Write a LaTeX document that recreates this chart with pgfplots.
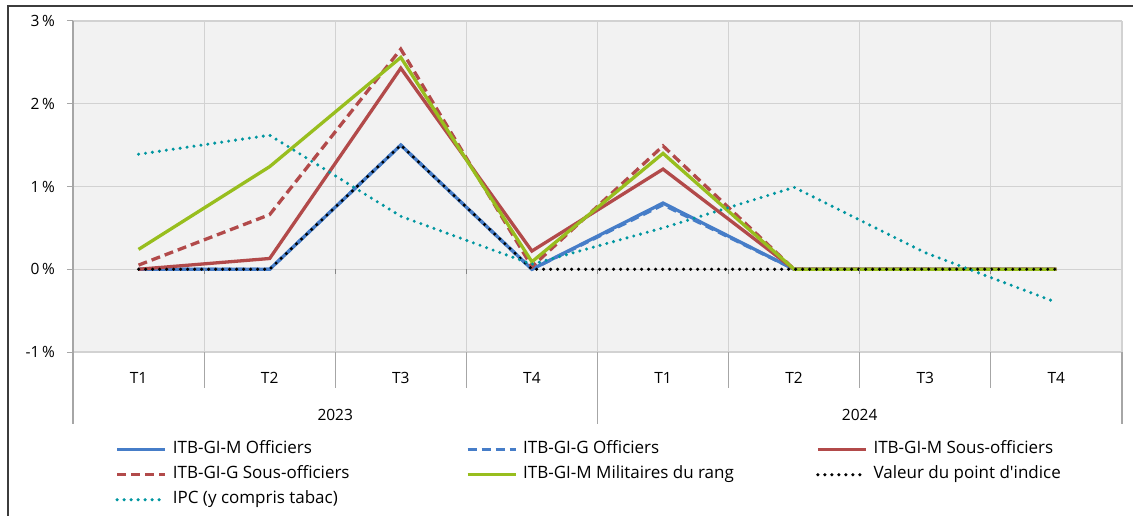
\documentclass[border=0pt]{standalone}
\usepackage{pgfplots}
\pgfplotsset{compat=1.18}
\usepackage{fontspec}
\setmainfont{Open Sans}
\definecolor{bgc}{RGB}{242,242,242}
\definecolor{gridc}{RGB}{210,210,210}
\definecolor{axc}{RGB}{166,166,166}
\definecolor{zeroc}{RGB}{134,134,134}
\definecolor{blueC}{RGB}{70,125,200}
\definecolor{redC}{RGB}{178,74,74}
\definecolor{greenC}{RGB}{152,190,30}
\definecolor{tealC}{RGB}{0,150,160}
\definecolor{frameC}{RGB}{60,60,60}
\begin{document}
\begin{tikzpicture}
\useasboundingbox (0,0) rectangle (1133bp,516bp);
\draw[frameC, line width=1.5bp] (8bp,0bp) -- (8bp,510bp) -- (1133bp,510bp);
\begin{axis}[
  at={(73bp,164bp)}, anchor=south west, scale only axis,
  width=1049bp, height=331bp,
  xmin=0, xmax=8, ymin=-1, ymax=3,
  clip=false,
  axis background/.style={fill=bgc},
  axis line style={draw=none},
  font=\fontsize{15.5bp}{18bp}\selectfont,
  xtick={0.5,1.5,...,7.5},
  xticklabels={T1,T2,T3,T4,T1,T2,T3,T4},
  xticklabel style={anchor=center, yshift=-20bp},
  minor xtick={0,1,...,8},
  x tick style={draw=none},
  xminorgrids=true,
  minor x grid style={gridc, line width=1.2bp},
  ytick={-1,0,1,2,3},
  yticklabels={-1\,\%,0\,\%,1\,\%,2\,\%,3\,\%},
  ytick pos=left,
  tick align=outside,
  major tick length=6bp,
  y tick style={axc, line width=1bp},
  yticklabel style={anchor=east, inner xsep=0bp, xshift=-12bp},
  ymajorgrids=true,
  major y grid style={gridc, line width=1.2bp},
  extra y ticks={0},
  extra y tick labels={},
  extra y tick style={major tick length=0bp, grid=major, major grid style={zeroc, line width=1.2bp}},
  legend columns=3,
  legend style={at={(0.0405,-0.2719)}, anchor=north west, draw=none, fill=none,
    inner sep=0bp, outer sep=0bp, column sep=0bp, row sep=9.5bp,
    font=\fontsize{17bp}{20bp}\selectfont,
    nodes={inner ysep=0bp, inner xsep=6bp, text height=12bp, text depth=3.5bp}},
  legend cell align=left,
  legend image code/.code={\draw[#1] (0bp,0bp) -- (48bp,0bp);},
]
\addplot[blueC, line width=3.3bp] coordinates {(0.5,0) (1.5,0) (2.5,1.5) (3.5,0) (4.5,0.80) (5.5,0) (6.5,0) (7.5,0)};
\addlegendentry{\makebox[287bp][l]{ITB-GI-M Officiers}}
\addplot[blueC, line width=3.3bp, dash pattern=on 9bp off 5bp] coordinates {(0.5,0) (1.5,0) (2.5,1.5) (3.5,0) (4.5,0.78) (5.5,0) (6.5,0) (7.5,0)};
\addlegendentry{\makebox[287bp][l]{ITB-GI-G Officiers}}
\addplot[redC, line width=3.3bp] coordinates {(0.5,0) (1.5,0.13) (2.5,2.43) (3.5,0.22) (4.5,1.21) (5.5,0) (6.5,0) (7.5,0)};
\addlegendentry{\makebox[287bp][l]{ITB-GI-M Sous-officiers}}
\addplot[redC, line width=3.3bp, dash pattern=on 9bp off 5bp] coordinates {(0.5,0.05) (1.5,0.66) (2.5,2.66) (3.5,0.03) (4.5,1.49) (5.5,0) (6.5,0) (7.5,0)};
\addlegendentry{\makebox[287bp][l]{ITB-GI-G Sous-officiers}}
\addplot[greenC, line width=3.3bp] coordinates {(0.5,0.24) (1.5,1.24) (2.5,2.56) (3.5,0.09) (4.5,1.40) (5.5,0) (6.5,0) (7.5,0)};
\addlegendentry{\makebox[287bp][l]{ITB-GI-M Militaires du rang}}
\addplot[black, line width=3.4bp, line cap=round, dash pattern=on 0bp off 7bp] coordinates {(0.5,0) (1.5,0) (2.5,1.5) (3.5,0) (4.5,0) (5.5,0) (6.5,0) (7.5,0)};
\addlegendentry{\makebox[287bp][l]{Valeur du point d\textquotesingle indice}}
\addplot[tealC, line width=3.4bp, line cap=round, dash pattern=on 0bp off 7bp] coordinates {(0.5,1.39) (1.5,1.62) (2.5,0.64) (3.5,0.06) (4.5,0.50) (5.5,0.99) (6.5,0.20) (7.5,-0.40)};
\addlegendentry{\makebox[287bp][l]{IPC (y compris tabac)}}
\draw[axc, line width=1.2bp] (axis cs:0,-1) -- (axis cs:0,3);
\pgfplotsinvokeforeach{1,...,7}{\draw[zeroc, line width=1bp] (axis cs:#1,0) -- ([yshift=-5bp]axis cs:#1,0);}
\pgfplotsinvokeforeach{1,2,3,5,6,7}{\draw[axc, line width=1.2bp] (axis cs:#1,-1) -- ([yshift=-36bp]axis cs:#1,-1);}
\pgfplotsinvokeforeach{0,4,8}{\draw[axc, line width=1.2bp] (axis cs:#1,-1) -- ([yshift=-72bp]axis cs:#1,-1);}
\node[anchor=center] at ([yshift=-63bp]axis cs:2,-1) {2023};
\node[anchor=center] at ([yshift=-63bp]axis cs:6,-1) {2024};
\end{axis}
\end{tikzpicture}
\end{document}
